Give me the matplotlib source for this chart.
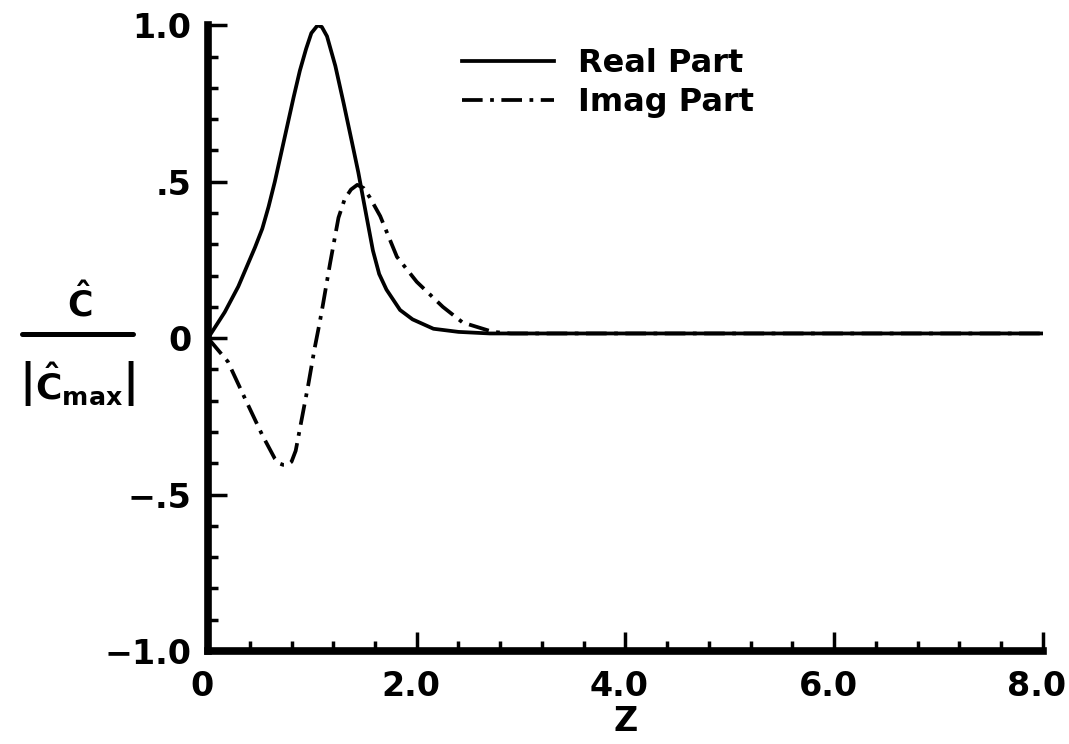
import matplotlib
matplotlib.use("Agg")
import matplotlib.pyplot as plt
from matplotlib.lines import Line2D
from matplotlib.transforms import ScaledTranslation
from matplotlib.ticker import MultipleLocator, FixedLocator, FixedFormatter

# values
z_real = [0, 0.16, 0.29, 0.45, 0.52, 0.58, 0.64, 0.70, 0.76, 0.82, 0.88, 0.94, 0.99, 1.05,
          1.09, 1.14, 1.22, 1.30, 1.38, 1.44, 1.49, 1.58, 1.64, 1.71, 1.84, 1.96, 2.16, 2.4,
          2.7, 3.5, 5.0, 6.5, 8.0]
v_real = [0, 0.083, 0.165, 0.29, 0.35, 0.42, 0.50, 0.59, 0.68, 0.77, 0.855, 0.925, 0.975, 1.0,
          0.995, 0.965, 0.87, 0.75, 0.625, 0.53, 0.44, 0.28, 0.205, 0.155, 0.09, 0.06, 0.03, 0.02,
          0.015, 0.015, 0.015, 0.015, 0.015]

z_imag = [0, 0.19, 0.35, 0.52, 0.64, 0.68, 0.72, 0.76, 0.80, 0.84, 0.88, 0.96, 1.02,
          1.07, 1.1, 1.17, 1.25, 1.31, 1.37, 1.43, 1.49, 1.55, 1.65, 1.81, 2.0, 2.25, 2.44,
          2.73, 2.9, 3.5, 5.0, 6.5, 8.0]
v_imag = [0, -0.075, -0.19, -0.31, -0.385, -0.40, -0.405, -0.405, -0.395, -0.36, -0.29, -0.15, -0.035,
          0.05, 0.105, 0.24, 0.385, 0.445, 0.475, 0.49, 0.48, 0.45, 0.39, 0.26, 0.18, 0.10, 0.05,
          0.02, 0.015, 0.015, 0.015, 0.015, 0.015]

x_major = [0, 2, 4, 6, 8]
x_labels = ["0", "2.0", "4.0", "6.0", "8.0"]
y_major = [-1.0, -0.5, 0, 0.5, 1.0]
y_labels = ["\u22121.0", "\u2212.5", "0", ".5", "1.0"]

plt.rcParams["font.family"] = ["DejaVu Sans"]
plt.rcParams["font.weight"] = "bold"
plt.rcParams["mathtext.fontset"] = "custom"
plt.rcParams["mathtext.rm"] = "DejaVu Sans:bold"
plt.rcParams["mathtext.it"] = "DejaVu Sans:bold"
plt.rcParams["mathtext.bf"] = "DejaVu Sans:bold"

W, H = 1069, 744
fig = plt.figure(figsize=(W / 100, H / 100), dpi=100)
ax = fig.add_axes([0.1946, 0.125, 0.781, 0.841])

dashdot = (0, (5.5, 2.0, 1.0, 2.0))
ax.plot(z_real, v_real, color="black", lw=2.7, solid_joinstyle="round",
        label="Real Part")
ax.plot(z_imag, v_imag, color="black", lw=2.7, linestyle=dashdot,
        dash_capstyle="butt", label="Imag Part")

ax.set_xlim(0, 8)
ax.set_ylim(-1, 1)
ax.margins(0)

for s in ["top", "right"]:
    ax.spines[s].set_visible(False)
for s in ["left", "bottom"]:
    ax.spines[s].set_linewidth(5.5)
    ax.spines[s].set_capstyle("projecting")

ax.xaxis.set_major_locator(FixedLocator(x_major))
ax.xaxis.set_major_formatter(FixedFormatter(x_labels))
ax.xaxis.set_minor_locator(MultipleLocator(0.4))
ax.yaxis.set_major_locator(FixedLocator(y_major))
ax.yaxis.set_major_formatter(FixedFormatter(y_labels))
ax.yaxis.set_minor_locator(MultipleLocator(0.1))

ax.tick_params(which="major", direction="in", length=14, width=2.5,
               labelsize=24, pad=12)
ax.tick_params(which="minor", direction="in", length=7, width=2.5)
ax.tick_params(axis="x", pad=14)

# nudge x tick labels a little to the left, like the original
shift = ScaledTranslation(-6 / 100, 0, fig.dpi_scale_trans)
for lab in ax.get_xticklabels():
    lab.set_transform(lab.get_transform() + shift)

ax.set_xlabel("Z", fontsize=24, fontweight="bold", labelpad=1)

# y label drawn as a fraction: C-hat over |C-hat max|
fig.text(80 / W, 1 - 303 / H, r"$\hat{C}$", fontsize=25, ha="center", va="center")
fig.add_artist(Line2D([22 / W, 133 / W], [1 - 334 / H, 1 - 334 / H],
                      color="black", lw=3.6, solid_capstyle="round"))
fig.text(77 / W, 1 - 383 / H, r"$\left|\hat{C}_{max}\right|$", fontsize=26,
         ha="center", va="center")

ax.legend(loc="upper left", bbox_to_anchor=(0.304, 0.964), frameon=False,
          fontsize=23, handlelength=2.9, handletextpad=0.75, labelspacing=0.25,
          borderpad=0, borderaxespad=0)

fig.savefig("out.png", dpi=100)
